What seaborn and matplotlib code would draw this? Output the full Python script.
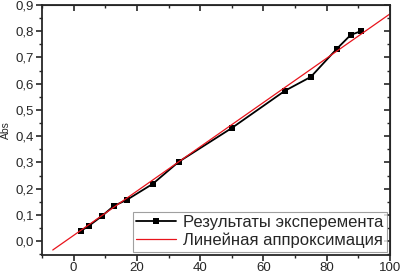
import numpy as np
import pandas as pd
import matplotlib
matplotlib.use('Agg')
import matplotlib.pyplot as plt
from matplotlib.ticker import MultipleLocator, FuncFormatter
import seaborn as sns

conc = [2.2, 4.7, 8.9, 12.7, 16.8, 25.0, 33.2, 50.0, 66.8, 75.0, 83.2, 87.6, 90.8]
absorb = [0.038, 0.057, 0.095, 0.134, 0.157, 0.218, 0.302, 0.431, 0.573, 0.626, 0.733, 0.786, 0.800]

# ends of the fitted line as drawn
fit_x = [-6.6, 100.0]
fit_y = [-0.034, 0.866]

label_exp = 'Результаты эксперемента'
label_fit = 'Линейная аппроксимация'

sns.set_style('ticks')
plt.rcParams['font.family'] = ['Liberation Sans', 'DejaVu Sans']

df_exp = pd.DataFrame({'x': conc, 'y': absorb})
df_fit = pd.DataFrame({'x': fit_x, 'y': fit_y})

fig, ax = plt.subplots(figsize=(4.02, 2.73), dpi=100)
fig.subplots_adjust(left=0.1045, right=0.970, top=0.9817, bottom=0.066)

sns.lineplot(data=df_exp, x='x', y='y', ax=ax, color='black', linewidth=1.3,
             marker='s', markersize=4, markeredgewidth=0, label=label_exp)
sns.lineplot(data=df_fit, x='x', y='y', ax=ax, color='#e8141c', linewidth=0.9,
             label=label_fit)

ax.set_xlim(-10, 100)
ax.set_ylim(-0.053, 0.9)
ax.set_xlabel('')
ax.set_ylabel('Abs', fontsize=7.5, labelpad=3)

ax.xaxis.set_major_locator(MultipleLocator(20))
ax.xaxis.set_minor_locator(MultipleLocator(10))
ax.yaxis.set_major_locator(MultipleLocator(0.1))
ax.yaxis.set_minor_locator(MultipleLocator(0.05))
ax.yaxis.set_major_formatter(FuncFormatter(lambda v, p: f'{v:.1f}'.replace('.', ',')))
ax.xaxis.set_major_formatter(FuncFormatter(lambda v, p: f'{v:.0f}'))

for side in ['left', 'right', 'top', 'bottom']:
    ax.spines[side].set_linewidth(1.3)
    ax.spines[side].set_visible(True)

ax.tick_params(which='major', direction='out', length=4, width=1.2, labelsize=9.5, pad=2)
ax.tick_params(which='minor', direction='out', length=2, width=1.0)
ax.tick_params(axis='x', labelsize=9.5, pad=1)

top = ax.secondary_xaxis('top')
top.xaxis.set_major_locator(MultipleLocator(20))
top.xaxis.set_minor_locator(MultipleLocator(10))
top.tick_params(which='major', direction='in', length=4, width=1.2, labeltop=False)
top.tick_params(which='minor', direction='in', length=2, width=1.0)
right = ax.secondary_yaxis('right')
right.yaxis.set_major_locator(MultipleLocator(0.1))
right.yaxis.set_minor_locator(MultipleLocator(0.05))
right.tick_params(which='major', direction='in', length=4, width=1.2, labelright=False)
right.tick_params(which='minor', direction='in', length=2, width=1.0)

leg = ax.legend(loc='lower right', fontsize=12, frameon=True, fancybox=False,
                handlelength=2.4, borderpad=0.2, labelspacing=0.15,
                handletextpad=0.4, borderaxespad=0.2)
leg.get_frame().set_edgecolor('#888888')
leg.get_frame().set_linewidth(0.8)

fig.savefig('out.png', dpi=100)
